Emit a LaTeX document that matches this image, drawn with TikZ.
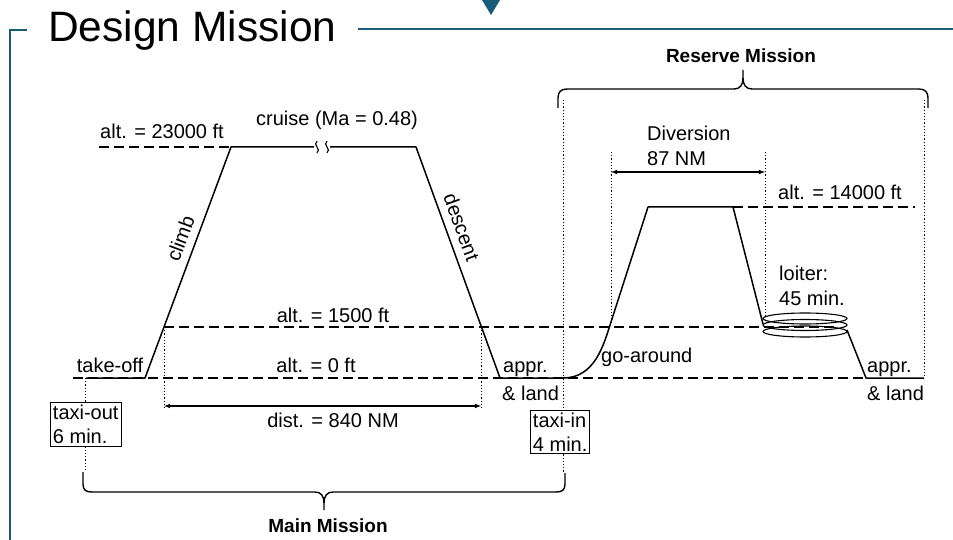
\documentclass[tikz,border=0pt]{standalone}
\usepackage{fontspec}
\setmainfont{Liberation Sans}
\usepackage{xcolor}
\usepackage{tikz}
\usetikzlibrary{arrows,shapes}

\definecolor{framecol}{RGB}{24,92,122}

\tikzset{
	lbl/.style={font=\fontsize{20}{24}\selectfont, inner sep=0pt},
	bold lbl/.style={font=\fontsize{19}{22}\selectfont\bfseries, inner sep=0pt},
	alt line/.style={dash pattern=on 10pt off 5pt, line width=1.4pt},
	guide/.style={dash pattern=on 1.2pt off 2pt, line width=1pt},
	flight/.style={line width=1.5pt, line join=round},
	taxibox/.style={draw, line width=0.9pt, align=left, inner sep=2.5pt, font=\fontsize{20}{24}\selectfont},
	brace/.style={line width=1.4pt}
}

\begin{document}
\begin{tikzpicture}[x=1pt,y=-1pt]
		\useasboundingbox (0,0) rectangle (953,540);
		% frame
		\draw[framecol, line width=2.5pt] (27,30) -- (10,30) -- (10,540);
		\draw[framecol, line width=2.5pt] (358,29) -- (953,29);
		\fill[framecol] (482,0) -- (500,0) -- (491,15) -- cycle;
		\node[anchor=base west, inner sep=0pt, font=\fontsize{42.5}{46}\selectfont] (title) at (48,42) {Design Mission};
		%
		\coordinate (to0) at (86,378);
		\coordinate (to1) at (145,378);
		\coordinate (cr0) at (231,147);
		\coordinate (cr1) at (416,147);
		\coordinate (ld0) at (500,378);
		\coordinate (ld1) at (563,378);
		\coordinate (ga) at (611,322);
		\coordinate (dv0) at (648,207);
		\coordinate (dv1) at (733,207);
		\coordinate (lt0) at (763,324);
		\coordinate (lt1) at (847,330);
		\coordinate (ld2) at (866,378);
		\coordinate (ld3) at (924,378);
		%
		% altitudes
		\draw[alt line] (99,147) -- (cr0);
		\draw[alt line] (164,327) -- (835,327);
		\draw[alt line] (73,378) -- (ld2);
		\draw[alt line] (dv1) -- (915,207);
		%
		% flight profile
		\draw[flight] (to0) -- (to1) -- (cr0) -- (314,147);
		\draw[flight] (330,147) -- (cr1) -- (ld0) -- (ld1)
			.. controls (595,378) and (603.6,345) .. (ga) -- (dv0) -- (dv1) -- (lt0);
		\draw[line width=1.1pt] (317,141) .. controls (312,145) and (322,149) .. (317,153);
		\draw[line width=1.1pt] (327,141) .. controls (322,145) and (332,149) .. (327,153);
		\draw[line width=1.1pt] (805,318.5) ellipse (42 and 5.5);
		\draw[line width=1.1pt] (805,325) ellipse (42 and 5.5);
		\draw[line width=1.1pt] (805,331.5) ellipse (42 and 5.5);
		\draw[flight] (lt1) -- (ld2) -- (ld3);
		%
		\node[lbl, anchor=base] (alt23) at (162,139) {alt. = 23000 ft};
		\node[lbl, anchor=base] (cruise) at (337,126) {cruise (Ma = 0.48)};
		\node[lbl, anchor=base] (alt15) at (333,322) {alt. = 1500 ft};
		\node[lbl, anchor=base] (alt0) at (316,372) {alt. = 0 ft};
		\node[lbl, anchor=base] (takeoff) at (110,372) {take-off};
		\node[lbl, anchor=base] (dist) at (333,427) {dist. = 840 NM};
		\node[lbl, anchor=base west] (appr) at (503,372) {appr.};
		\node[lbl, anchor=base west] (land) at (502,400) {\& land};
		\node[lbl, anchor=base west] (goaround) at (601,362) {go-around};
		\node[lbl, anchor=base west] (div) at (647,141) {Diversion};
		\node[lbl, anchor=base west] (divnm) at (647,166) {87 NM};
		\node[lbl, anchor=base] (alt14) at (840,200) {alt. = 14000 ft};
		\node[lbl, anchor=base west] (loiter) at (779,280) {loiter:};
		\node[lbl, anchor=base west] (loitermin) at (779,305) {45 min.};
		\node[lbl, anchor=base west] (appr2) at (867,372) {appr.};
		\node[lbl, anchor=base west] (land2) at (867,400) {\& land};
		\path (to1) -- node[lbl, sloped, above=8pt, pos=0.58] (climb) {climb} (cr0);
		\path (cr1) -- node[lbl, sloped, above=8pt, pos=0.37] (descent) {descent} (ld0);
		%
		\node[taxibox, anchor=north west] (taxiout) at (50,402) {taxi-out\\6 min.};
		\node[taxibox, anchor=north west] (taxiin) at (530,410) {taxi-in\\4 min.};
		%
		% guides
		\coordinate (g1a) at (85,378);
		\coordinate (g1b) at (85,472);
		\coordinate (g2a) at (164,327);
		\coordinate (g2b) at (164,410);
		\coordinate (g3a) at (481,327);
		\coordinate (g3b) at (481,410);
		\coordinate (g4a) at (563,100);
		\coordinate (g4b) at (563,473);
		\coordinate (g5a) at (611,152);
		\coordinate (g6a) at (765,152);
		\coordinate (g6b) at (765,318);
		\coordinate (g7a) at (924,100);
		\path[guide]
		(g1a) edge (taxiout.north -| g1a)
		(taxiout.south -| g1a) edge (g1b)
		(g2a) edge (g2b)
		(g3a) edge (g3b)
		(g4a) edge (taxiin.north -| g4a)
		(taxiin.south -| g4a) edge (g4b)
		(g5a) edge (ga)
		(g6a) edge (g6b)
		(g7a) edge (ld3);
		%
		\path[latex-latex, line width=1.1pt]
		(164,406) edge (481,406)
		(611,172) edge (765,172);
		%
		% braces
		\draw[brace] (83,472) -- (83,484) .. controls (83,490) and (86,492) .. (92,492) -- (315,492)
			.. controls (321,492) and (324,496) .. (324,503) -- (324,510);
		\draw[brace] (324,503) .. controls (324,496) and (327,492) .. (333,492) -- (556,492)
			.. controls (562,492) and (565,490) .. (565,484) -- (565,473);
		\node[bold lbl, anchor=base] (mainm) at (328,532) {Main Mission};
		\draw[brace] (558,108) -- (558,98) .. controls (558,92) and (561,89) .. (567,89) -- (734,89)
			.. controls (740,89) and (743,85) .. (743,78) -- (743,70);
		\draw[brace] (743,78) .. controls (743,85) and (746,89) .. (752,89) -- (919,89)
			.. controls (925,89) and (928,92) .. (928,98) -- (928,108);
		\node[bold lbl, anchor=base] (resm) at (741,63) {Reserve Mission};
		\end{tikzpicture}
\end{document}
